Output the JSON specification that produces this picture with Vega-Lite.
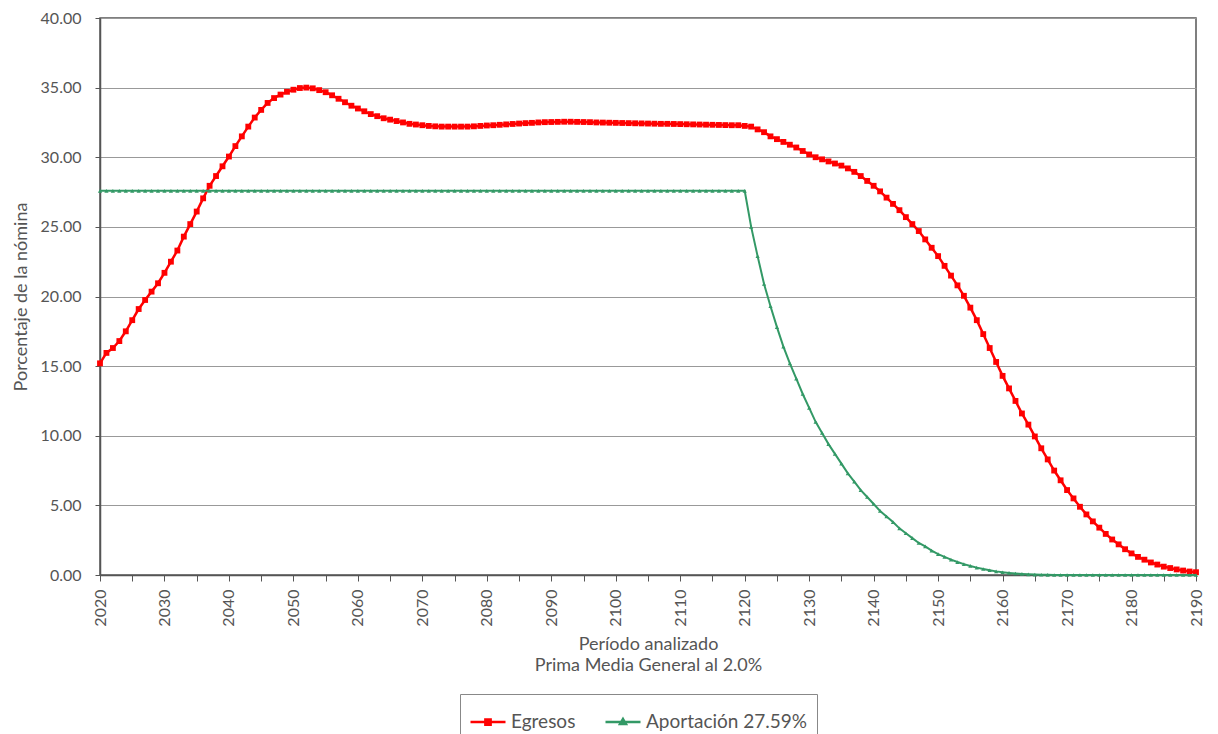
{
  "$schema": "https://vega.github.io/schema/vega-lite/v6.json",
  "autosize": "none",
  "width": 1096,
  "height": 557,
  "padding": {"left": 100, "top": 18, "right": 22, "bottom": 159},
  "background": "white",
  "config": {
    "font": "Lato",
    "view": {"stroke": "#555555", "strokeWidth": 1.5},
    "axis": {"labelColor": "#555555", "titleColor": "#555555", "labelFont": "Lato", "titleFont": "Lato", "titleFontWeight": "normal", "domainColor": "#555555", "domainWidth": 1.5, "tickColor": "#555555", "gridColor": "#999999", "gridWidth": 1}
  },
  "datasets": {
    "eg": [
      {"year":2020,"v":15.2},{"year":2021,"v":15.95},{"year":2022,"v":16.3},{"year":2023,"v":16.8},{"year":2024,"v":17.5},
      {"year":2025,"v":18.3},{"year":2026,"v":19.1},{"year":2027,"v":19.75},{"year":2028,"v":20.35},{"year":2029,"v":20.95},
      {"year":2030,"v":21.7},{"year":2031,"v":22.5},{"year":2032,"v":23.3},{"year":2033,"v":24.3},{"year":2034,"v":25.2},
      {"year":2035,"v":26.1},{"year":2036,"v":27.05},{"year":2037,"v":27.95},{"year":2038,"v":28.65},{"year":2039,"v":29.35},
      {"year":2040,"v":30.05},{"year":2041,"v":30.8},{"year":2042,"v":31.5},{"year":2043,"v":32.2},{"year":2044,"v":32.85},
      {"year":2045,"v":33.4},{"year":2046,"v":33.9},{"year":2047,"v":34.25},{"year":2048,"v":34.5},{"year":2049,"v":34.7},
      {"year":2050,"v":34.85},{"year":2051,"v":34.97},{"year":2052,"v":35.0},{"year":2053,"v":34.95},{"year":2054,"v":34.82},
      {"year":2055,"v":34.67},{"year":2056,"v":34.45},{"year":2057,"v":34.2},{"year":2058,"v":33.95},{"year":2059,"v":33.7},
      {"year":2060,"v":33.5},{"year":2061,"v":33.3},{"year":2062,"v":33.1},{"year":2063,"v":32.95},{"year":2064,"v":32.8},
      {"year":2065,"v":32.7},{"year":2066,"v":32.6},{"year":2067,"v":32.5},{"year":2068,"v":32.4},{"year":2069,"v":32.35},
      {"year":2070,"v":32.3},{"year":2071,"v":32.25},{"year":2072,"v":32.22},{"year":2073,"v":32.2},{"year":2074,"v":32.2},
      {"year":2075,"v":32.2},{"year":2076,"v":32.2},{"year":2077,"v":32.2},{"year":2078,"v":32.22},{"year":2079,"v":32.25},
      {"year":2080,"v":32.28},{"year":2081,"v":32.3},{"year":2082,"v":32.33},{"year":2083,"v":32.36},{"year":2084,"v":32.39},
      {"year":2085,"v":32.42},{"year":2086,"v":32.45},{"year":2087,"v":32.47},{"year":2088,"v":32.5},{"year":2089,"v":32.52},
      {"year":2090,"v":32.53},{"year":2091,"v":32.54},{"year":2092,"v":32.55},{"year":2093,"v":32.55},{"year":2094,"v":32.54},
      {"year":2095,"v":32.53},{"year":2096,"v":32.52},{"year":2097,"v":32.5},{"year":2098,"v":32.49},{"year":2099,"v":32.48},
      {"year":2100,"v":32.47},{"year":2101,"v":32.46},{"year":2102,"v":32.45},{"year":2103,"v":32.44},{"year":2104,"v":32.43},
      {"year":2105,"v":32.42},{"year":2106,"v":32.41},{"year":2107,"v":32.4},{"year":2108,"v":32.4},{"year":2109,"v":32.39},
      {"year":2110,"v":32.38},{"year":2111,"v":32.37},{"year":2112,"v":32.36},{"year":2113,"v":32.35},{"year":2114,"v":32.34},
      {"year":2115,"v":32.33},{"year":2116,"v":32.32},{"year":2117,"v":32.31},{"year":2118,"v":32.3},{"year":2119,"v":32.3},
      {"year":2120,"v":32.25},{"year":2121,"v":32.2},{"year":2122,"v":32.0},{"year":2123,"v":31.8},{"year":2124,"v":31.5},
      {"year":2125,"v":31.3},{"year":2126,"v":31.1},{"year":2127,"v":30.9},{"year":2128,"v":30.7},{"year":2129,"v":30.45},
      {"year":2130,"v":30.2},{"year":2131,"v":30.0},{"year":2132,"v":29.85},{"year":2133,"v":29.7},{"year":2134,"v":29.55},
      {"year":2135,"v":29.4},{"year":2136,"v":29.2},{"year":2137,"v":28.95},{"year":2138,"v":28.65},{"year":2139,"v":28.3},
      {"year":2140,"v":27.95},{"year":2141,"v":27.55},{"year":2142,"v":27.1},{"year":2143,"v":26.65},{"year":2144,"v":26.2},
      {"year":2145,"v":25.7},{"year":2146,"v":25.2},{"year":2147,"v":24.7},{"year":2148,"v":24.1},{"year":2149,"v":23.5},
      {"year":2150,"v":22.9},{"year":2151,"v":22.2},{"year":2152,"v":21.5},{"year":2153,"v":20.8},{"year":2154,"v":20.05},
      {"year":2155,"v":19.2},{"year":2156,"v":18.3},{"year":2157,"v":17.3},{"year":2158,"v":16.3},{"year":2159,"v":15.3},
      {"year":2160,"v":14.3},{"year":2161,"v":13.4},{"year":2162,"v":12.5},{"year":2163,"v":11.6},{"year":2164,"v":10.8},
      {"year":2165,"v":9.95},{"year":2166,"v":9.1},{"year":2167,"v":8.3},{"year":2168,"v":7.5},{"year":2169,"v":6.8},
      {"year":2170,"v":6.1},{"year":2171,"v":5.5},{"year":2172,"v":4.9},{"year":2173,"v":4.35},{"year":2174,"v":3.85},
      {"year":2175,"v":3.4},{"year":2176,"v":2.95},{"year":2177,"v":2.55},{"year":2178,"v":2.2},{"year":2179,"v":1.85},
      {"year":2180,"v":1.55},{"year":2181,"v":1.3},{"year":2182,"v":1.1},{"year":2183,"v":0.9},{"year":2184,"v":0.75},
      {"year":2185,"v":0.6},{"year":2186,"v":0.5},{"year":2187,"v":0.4},{"year":2188,"v":0.32},{"year":2189,"v":0.25},
      {"year":2190,"v":0.2}
    ],
    "ap": [
      {"year":2020,"v":27.59},{"year":2021,"v":27.59},{"year":2022,"v":27.59},{"year":2023,"v":27.59},{"year":2024,"v":27.59},
      {"year":2025,"v":27.59},{"year":2026,"v":27.59},{"year":2027,"v":27.59},{"year":2028,"v":27.59},{"year":2029,"v":27.59},
      {"year":2030,"v":27.59},{"year":2031,"v":27.59},{"year":2032,"v":27.59},{"year":2033,"v":27.59},{"year":2034,"v":27.59},
      {"year":2035,"v":27.59},{"year":2036,"v":27.59},{"year":2037,"v":27.59},{"year":2038,"v":27.59},{"year":2039,"v":27.59},
      {"year":2040,"v":27.59},{"year":2041,"v":27.59},{"year":2042,"v":27.59},{"year":2043,"v":27.59},{"year":2044,"v":27.59},
      {"year":2045,"v":27.59},{"year":2046,"v":27.59},{"year":2047,"v":27.59},{"year":2048,"v":27.59},{"year":2049,"v":27.59},
      {"year":2050,"v":27.59},{"year":2051,"v":27.59},{"year":2052,"v":27.59},{"year":2053,"v":27.59},{"year":2054,"v":27.59},
      {"year":2055,"v":27.59},{"year":2056,"v":27.59},{"year":2057,"v":27.59},{"year":2058,"v":27.59},{"year":2059,"v":27.59},
      {"year":2060,"v":27.59},{"year":2061,"v":27.59},{"year":2062,"v":27.59},{"year":2063,"v":27.59},{"year":2064,"v":27.59},
      {"year":2065,"v":27.59},{"year":2066,"v":27.59},{"year":2067,"v":27.59},{"year":2068,"v":27.59},{"year":2069,"v":27.59},
      {"year":2070,"v":27.59},{"year":2071,"v":27.59},{"year":2072,"v":27.59},{"year":2073,"v":27.59},{"year":2074,"v":27.59},
      {"year":2075,"v":27.59},{"year":2076,"v":27.59},{"year":2077,"v":27.59},{"year":2078,"v":27.59},{"year":2079,"v":27.59},
      {"year":2080,"v":27.59},{"year":2081,"v":27.59},{"year":2082,"v":27.59},{"year":2083,"v":27.59},{"year":2084,"v":27.59},
      {"year":2085,"v":27.59},{"year":2086,"v":27.59},{"year":2087,"v":27.59},{"year":2088,"v":27.59},{"year":2089,"v":27.59},
      {"year":2090,"v":27.59},{"year":2091,"v":27.59},{"year":2092,"v":27.59},{"year":2093,"v":27.59},{"year":2094,"v":27.59},
      {"year":2095,"v":27.59},{"year":2096,"v":27.59},{"year":2097,"v":27.59},{"year":2098,"v":27.59},{"year":2099,"v":27.59},
      {"year":2100,"v":27.59},{"year":2101,"v":27.59},{"year":2102,"v":27.59},{"year":2103,"v":27.59},{"year":2104,"v":27.59},
      {"year":2105,"v":27.59},{"year":2106,"v":27.59},{"year":2107,"v":27.59},{"year":2108,"v":27.59},{"year":2109,"v":27.59},
      {"year":2110,"v":27.59},{"year":2111,"v":27.59},{"year":2112,"v":27.59},{"year":2113,"v":27.59},{"year":2114,"v":27.59},
      {"year":2115,"v":27.59},{"year":2116,"v":27.59},{"year":2117,"v":27.59},{"year":2118,"v":27.59},{"year":2119,"v":27.59},
      {"year":2120,"v":27.59},{"year":2121,"v":25.0},{"year":2122,"v":22.9},{"year":2123,"v":20.9},{"year":2124,"v":19.3},
      {"year":2125,"v":17.8},{"year":2126,"v":16.4},{"year":2127,"v":15.2},{"year":2128,"v":14.1},{"year":2129,"v":13.0},
      {"year":2130,"v":12.0},{"year":2131,"v":11.0},{"year":2132,"v":10.2},{"year":2133,"v":9.4},{"year":2134,"v":8.7},
      {"year":2135,"v":8.0},{"year":2136,"v":7.3},{"year":2137,"v":6.7},{"year":2138,"v":6.1},{"year":2139,"v":5.6},
      {"year":2140,"v":5.1},{"year":2141,"v":4.6},{"year":2142,"v":4.2},{"year":2143,"v":3.8},{"year":2144,"v":3.35},
      {"year":2145,"v":3.0},{"year":2146,"v":2.65},{"year":2147,"v":2.3},{"year":2148,"v":2.05},{"year":2149,"v":1.75},
      {"year":2150,"v":1.5},{"year":2151,"v":1.3},{"year":2152,"v":1.1},{"year":2153,"v":0.93},{"year":2154,"v":0.78},
      {"year":2155,"v":0.65},{"year":2156,"v":0.53},{"year":2157,"v":0.43},{"year":2158,"v":0.34},{"year":2159,"v":0.26},
      {"year":2160,"v":0.2},{"year":2161,"v":0.15},{"year":2162,"v":0.11},{"year":2163,"v":0.08},{"year":2164,"v":0.05},
      {"year":2165,"v":0.03},{"year":2166,"v":0.02},{"year":2167,"v":0.01},{"year":2168,"v":0.0},{"year":2169,"v":0.0},
      {"year":2170,"v":0.0},{"year":2171,"v":0.0},{"year":2172,"v":0.0},{"year":2173,"v":0.0},{"year":2174,"v":0.0},
      {"year":2175,"v":0.0},{"year":2176,"v":0.0},{"year":2177,"v":0.0},{"year":2178,"v":0.0},{"year":2179,"v":0.0},
      {"year":2180,"v":0.0},{"year":2181,"v":0.0},{"year":2182,"v":0.0},{"year":2183,"v":0.0},{"year":2184,"v":0.0},
      {"year":2185,"v":0.0},{"year":2186,"v":0.0},{"year":2187,"v":0.0},{"year":2188,"v":0.0},{"year":2189,"v":0.0},
      {"year":2190,"v":0.0}
    ]
  },
  "encoding": {
    "x": {
      "field": "year", "type": "quantitative",
      "scale": {"domain": [2020, 2190], "nice": false, "zero": false},
      "axis": {
        "values": [2020,2025,2030,2035,2040,2045,2050,2055,2060,2065,2070,2075,2080,2085,2090,2095,2100,2105,2110,2115,2120,2125,2130,2135,2140,2145,2150,2155,2160,2165,2170,2175,2180,2185,2190],
        "format": "d",
        "labelExpr": "datum.value % 10 === 0 ? datum.label : ''",
        "labelAngle": -90,
        "labelFontSize": 16,
        "labelPadding": 8,
        "tickSize": 6,
        "grid": false,
        "labelFlush": false,
        "labelOverlap": false,
        "title": ["Período analizado", "Prima Media General al 2.0%"],
        "titleFontSize": 18,
        "titleLineHeight": 21,
        "titleBaseline": "top",
        "titleY": 60
      }
    },
    "y": {
      "field": "v", "type": "quantitative",
      "scale": {"domain": [0, 40], "nice": false},
      "axis": {
        "values": [0,5,10,15,20,25,30,35,40],
        "format": ".2f",
        "labelFontSize": 16,
        "labelPadding": 14,
        "tickSize": 5,
        "grid": true,
        "labelFlush": false,
        "title": "Porcentaje de la nómina",
        "titleFontSize": 18,
        "titlePadding": 10
      }
    }
  },
  "layer": [
    {
      "data": {"name": "eg"},
      "mark": {"type": "line", "strokeWidth": 2.5},
      "encoding": {
        "color": {
          "datum": "Egresos",
          "type": "nominal",
          "scale": {"domain": ["Egresos", "Aportación 27.59%"], "range": ["#FF0000", "#339966"]},
          "legend": {
            "orient": "none",
            "legendX": 360,
            "legendY": 676,
            "direction": "horizontal",
            "title": null,
            "strokeColor": "#888888",
            "padding": 9,
            "labelFontSize": 19,
            "labelLimit": 400,
            "labelColor": "#555555",
            "labelFont": "Lato",
            "symbolSize": 1225,
            "symbolStrokeWidth": 2.5,
            "symbolOpacity": 1,
            "columnPadding": 24,
            "labelOffset": 4,
            "encode": {
              "symbols": {
                "update": {
                  "shape": {"signal": "datum.value === 'Egresos' ? 'M-1,0H1M-0.15,-0.15H0.15V0.15H-0.15Z' : 'M-1,0H1M0,-0.17L0.17,0.12H-0.17Z'"},
                  "fill": {"signal": "datum.value === 'Egresos' ? '#FF0000' : '#339966'"},
                  "stroke": {"signal": "datum.value === 'Egresos' ? '#FF0000' : '#339966'"},
                  "fillOpacity": {"value": 1},
                  "strokeOpacity": {"value": 1}
                }
              }
            }
          }
        }
      }
    },
    {
      "data": {"name": "eg"},
      "mark": {"type": "point", "shape": "square", "filled": true, "size": 34, "opacity": 1},
      "encoding": {"color": {"datum": "Egresos", "type": "nominal"}}
    },
    {
      "data": {"name": "ap"},
      "mark": {"type": "line", "strokeWidth": 2},
      "encoding": {"color": {"datum": "Aportación 27.59%", "type": "nominal"}}
    },
    {
      "data": {"name": "ap"},
      "mark": {"type": "point", "shape": "triangle-up", "filled": true, "size": 18, "opacity": 1},
      "encoding": {"color": {"datum": "Aportación 27.59%", "type": "nominal"}}
    }
  ]
}
